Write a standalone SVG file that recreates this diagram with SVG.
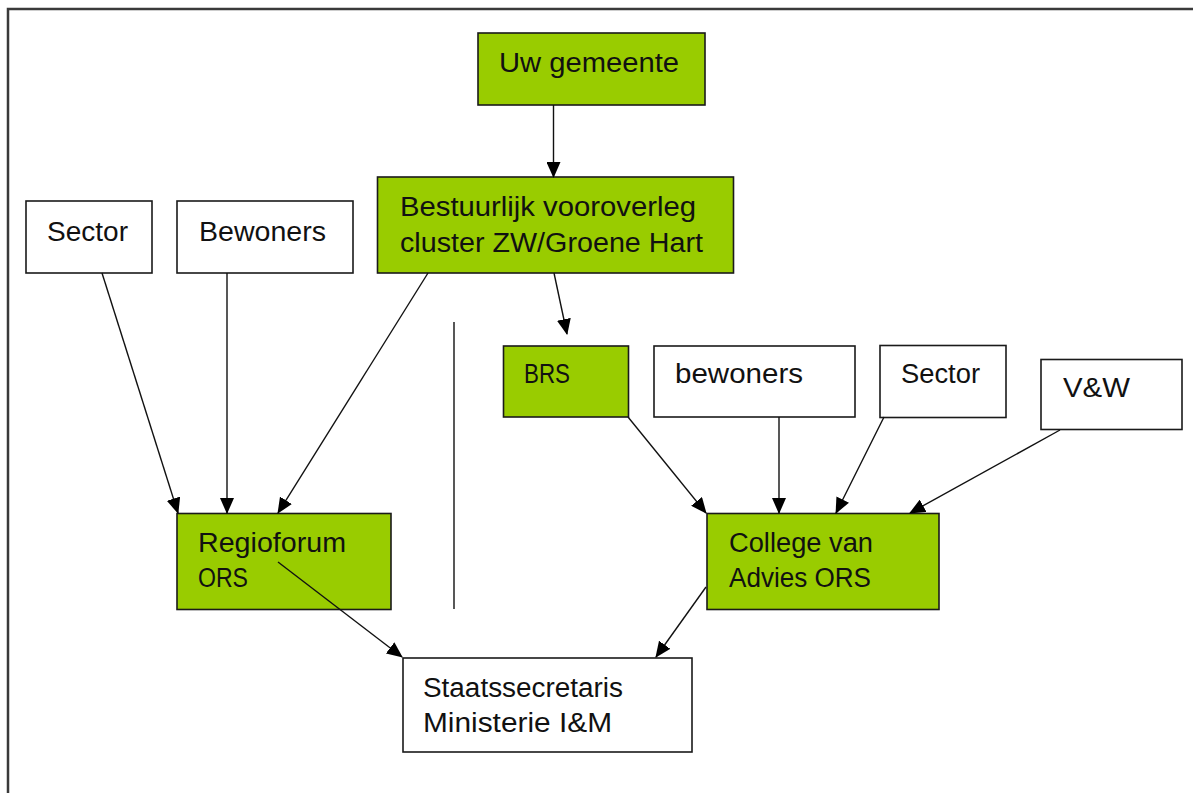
<svg xmlns="http://www.w3.org/2000/svg" width="1193" height="793" viewBox="0 0 1193 793">
<style>
.g{fill:#99cc00;stroke:#1a1a1a;stroke-width:1.6}
.w{fill:#ffffff;stroke:#1a1a1a;stroke-width:1.6}
text{font-family:"Liberation Sans",Arial,sans-serif;font-size:27px;fill:#111}
.c line{stroke:#111;stroke-width:1.4}
</style>
<defs>
<marker id="ah" markerUnits="userSpaceOnUse" markerWidth="16" markerHeight="14" viewBox="0 0 16 14" refX="15" refY="7" orient="auto">
<path d="M0,0 L16,7 L0,14 z" fill="#000"/>
</marker>
</defs>
<rect width="1193" height="793" fill="#fff"/>
<path d="M8,800 V9 H1200" fill="none" stroke="#3a3a3a" stroke-width="2.5"/>
<line x1="454" y1="322" x2="454" y2="609" stroke="#111" stroke-width="1.4"/>
<g id="uw-gemeente"><rect class="g" x="478" y="33" width="227" height="72"/><text x="499" y="72" textLength="180" lengthAdjust="spacingAndGlyphs">Uw gemeente</text></g>
<g id="bestuurlijk"><rect class="g" x="377.5" y="177" width="356" height="96"/><text x="400" y="216" textLength="296" lengthAdjust="spacingAndGlyphs">Bestuurlijk vooroverleg</text><text x="400" y="252" textLength="303" lengthAdjust="spacingAndGlyphs">cluster ZW/Groene Hart</text></g>
<g id="sector-left"><rect class="w" x="26" y="201" width="126" height="72"/><text x="47" y="241" textLength="81" lengthAdjust="spacingAndGlyphs">Sector</text></g>
<g id="bewoners-left"><rect class="w" x="177" y="201" width="176" height="72"/><text x="199" y="241" textLength="127" lengthAdjust="spacingAndGlyphs">Bewoners</text></g>
<g id="brs"><rect class="g" x="503.5" y="346" width="125" height="71"/><text x="524" y="383" textLength="46" lengthAdjust="spacingAndGlyphs">BRS</text></g>
<g id="bewoners-right"><rect class="w" x="654" y="346" width="201" height="71"/><text x="675" y="383" textLength="128" lengthAdjust="spacingAndGlyphs">bewoners</text></g>
<g id="sector-right"><rect class="w" x="880" y="345.5" width="126" height="72"/><text x="901" y="383" textLength="79" lengthAdjust="spacingAndGlyphs">Sector</text></g>
<g id="vw"><rect class="w" x="1041" y="359.5" width="141" height="70"/><text x="1063" y="397" textLength="67" lengthAdjust="spacingAndGlyphs">V&amp;W</text></g>
<g id="regioforum"><rect class="g" x="177" y="513.5" width="214" height="96"/><text x="198" y="552" textLength="148" lengthAdjust="spacingAndGlyphs">Regioforum</text><text x="198" y="587" textLength="50" lengthAdjust="spacingAndGlyphs">ORS</text></g>
<g id="college"><rect class="g" x="707" y="513.5" width="232" height="96"/><text x="729" y="552" textLength="144" lengthAdjust="spacingAndGlyphs">College van</text><text x="729" y="587" textLength="142" lengthAdjust="spacingAndGlyphs">Advies ORS</text></g>
<g id="staatssecretaris"><rect class="w" x="403" y="658" width="289" height="94"/><text x="423" y="697" textLength="200" lengthAdjust="spacingAndGlyphs">Staatssecretaris</text><text x="423" y="732" textLength="189" lengthAdjust="spacingAndGlyphs">Ministerie I&amp;M</text></g>
<g class="c" id="connectors">
<line x1="553.5" y1="105" x2="553.5" y2="177" marker-end="url(#ah)"/>
<line x1="554" y1="273" x2="567" y2="334" marker-end="url(#ah)"/>
<line x1="102" y1="273" x2="178" y2="513" marker-end="url(#ah)"/>
<line x1="227" y1="273" x2="227" y2="513" marker-end="url(#ah)"/>
<line x1="428" y1="273" x2="278" y2="513" marker-end="url(#ah)"/>
<line x1="628" y1="417" x2="706" y2="513" marker-end="url(#ah)"/>
<line x1="779" y1="417" x2="779" y2="513" marker-end="url(#ah)"/>
<line x1="884" y1="417" x2="836" y2="513" marker-end="url(#ah)"/>
<line x1="1060" y1="430" x2="910" y2="513" marker-end="url(#ah)"/>
<line x1="278" y1="562" x2="402" y2="657" marker-end="url(#ah)"/>
<line x1="706" y1="587" x2="656" y2="657" marker-end="url(#ah)"/>
</g>
</svg>
